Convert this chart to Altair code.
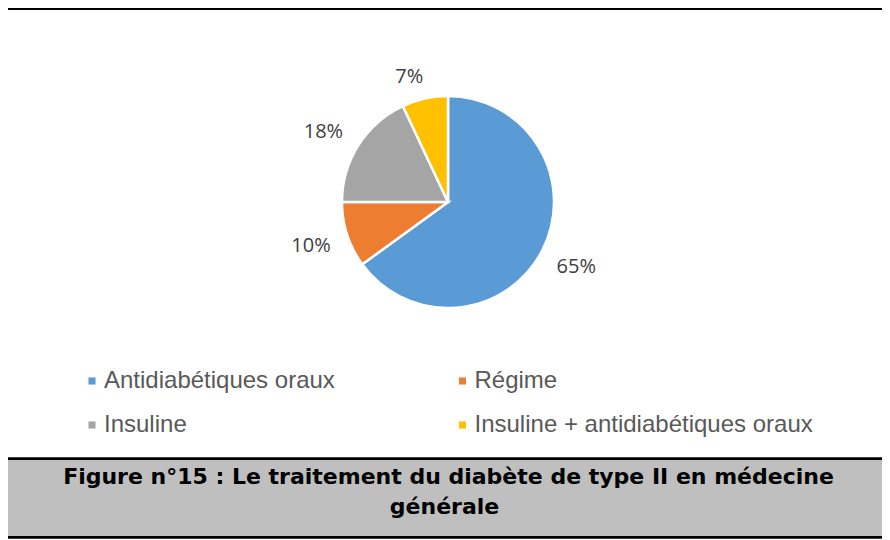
import altair as alt
import pandas as pd

# ---- data ----
categories = ["Antidiabétiques oraux", "Régime", "Insuline", "Insuline + antidiabétiques oraux"]
values = [65, 10, 18, 7]
colors = ["#5B9BD5", "#ED7D31", "#A5A5A5", "#FFC000"]
title_lines = ["Figure n°15 : Le traitement du diabète de type II en médecine", "générale"]

W, H = 874, 532
CX, CY = 440, 194

df = pd.DataFrame({"cat": categories, "val": values, "ord": list(range(len(categories)))})
df["label"] = [f"{v}%" for v in values]

base = alt.Chart(df).encode(
    theta=alt.Theta("val:Q", stack=True),
    order=alt.Order("ord:Q"),
)

pie = base.mark_arc(outerRadius=106, stroke="white", strokeWidth=2.5).encode(
    x=alt.value(CX),
    y=alt.value(CY),
    color=alt.Color(
        "cat:N",
        scale=alt.Scale(domain=categories, range=colors),
        sort=categories,
        legend=alt.Legend(
            title=None, orient="none", legendX=66.5, legendY=361,
            direction="horizontal", columns=2, columnPadding=109.5, rowPadding=20,
            symbolType="square", symbolSize=50, symbolStrokeWidth=0, symbolOffset=5.5,
            labelFont="Liberation Sans", labelFontSize=24, labelColor="#595959",
            labelOffset=0, labelLimit=0,
        ),
    ),
)

text_style = dict(font="Open Sans", fontSize=20, color="#404040")
# Excel-style "best fit" label placement: mostly outside end, small slices nudged
labels_main = base.mark_text(radius=144, **text_style).encode(
    x=alt.value(CX), y=alt.value(CY), text="label:N",
    opacity=alt.condition("datum.val >= 8 && datum.cat != 'Insuline'", alt.value(1), alt.value(0)),
)
labels_ins = base.mark_text(radius=144, dx=-3, dy=7, **text_style).encode(
    x=alt.value(CX), y=alt.value(CY), text="label:N",
    opacity=alt.condition("datum.cat == 'Insuline'", alt.value(1), alt.value(0)),
)
labels_small = base.mark_text(radius=132, dx=-10, dy=4, **text_style).encode(
    x=alt.value(CX), y=alt.value(CY), text="label:N",
    opacity=alt.condition("datum.val < 8", alt.value(1), alt.value(0)),
)

one = pd.DataFrame({"k": [0]})
top_line = alt.Chart(one).mark_rule(color="black", strokeWidth=2).encode(
    x=alt.value(0), x2=alt.value(W), y=alt.value(1)
)
box = alt.Chart(one).mark_rect(color="#BFBFBF").encode(
    x=alt.value(0), x2=alt.value(W), y=alt.value(451), y2=alt.value(529)
)
box_top = alt.Chart(one).mark_rule(color="black", strokeWidth=2.7).encode(
    x=alt.value(0), x2=alt.value(W), y=alt.value(450.7)
)
box_bottom = alt.Chart(one).mark_rule(color="black", strokeWidth=2.7).encode(
    x=alt.value(0), x2=alt.value(W), y=alt.value(529.3)
)

title1 = alt.Chart(pd.DataFrame({"t": [title_lines[0]]})).mark_text(
    font="DejaVu Sans", fontWeight="bold", fontSize=22, color="black", align="center", baseline="alphabetic"
).encode(x=alt.value(440.5), y=alt.value(476), text="t:N")
title2 = alt.Chart(pd.DataFrame({"t": [title_lines[1]]})).mark_text(
    font="DejaVu Sans", fontWeight="bold", fontSize=22, color="black", align="center", baseline="alphabetic"
).encode(x=alt.value(436.5), y=alt.value(506), text="t:N")

chart = alt.layer(
    top_line, box, box_top, box_bottom, pie, labels_main, labels_ins, labels_small, title1, title2
).properties(
    width=W, height=H, padding=0, autosize=alt.AutoSizeParams(type="none"), background="white"
).configure_view(stroke=None)

chart.save("out.html", embed_options={"renderer": "svg", "actions": False})
